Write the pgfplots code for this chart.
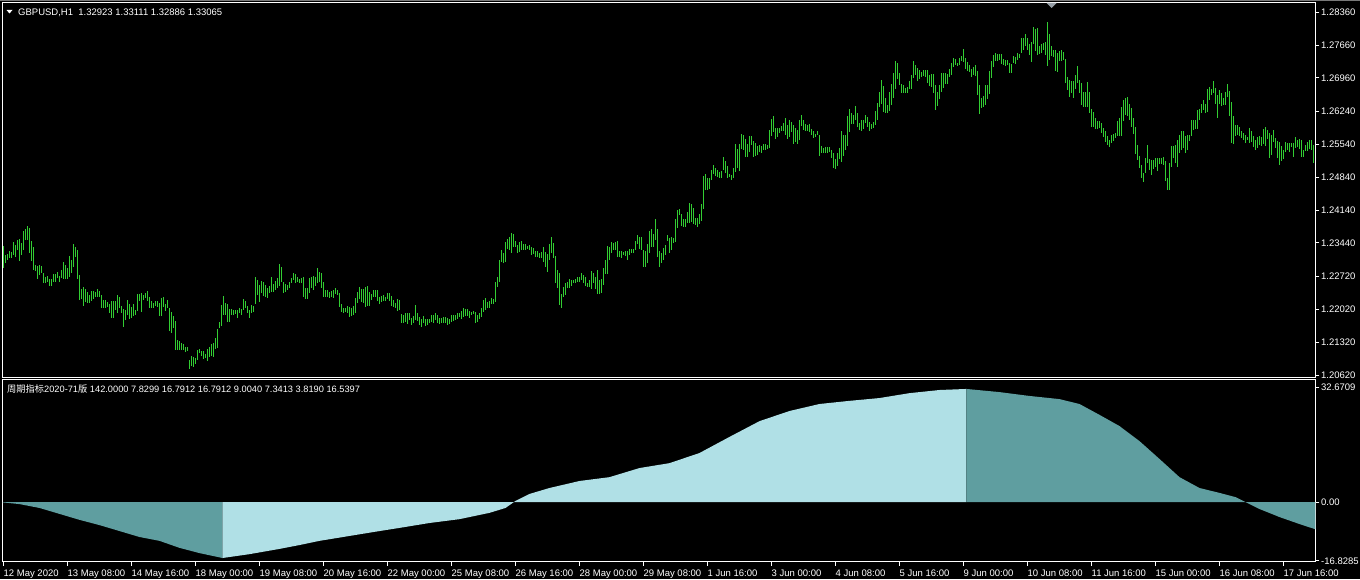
\documentclass[border=0pt]{standalone}
\usepackage{pgfplots}
\pgfplotsset{compat=1.18}
\usepackage{pgfplotstable}
\usepackage{fontspec}
\setmainfont{Liberation Sans}
\newfontfamily\cjk{Noto Sans CJK SC}
\definecolor{barg}{RGB}{50,205,50}
\definecolor{cadet}{RGB}{95,158,160}
\definecolor{powder}{RGB}{176,224,230}
\definecolor{topgray}{RGB}{120,120,120}
\definecolor{shiftgray}{RGB}{150,158,166}

\pgfplotstableread{
lo hi
1.2290 1.2337
1.2302 1.2318
1.2307 1.2320
1.2311 1.2327
1.2311 1.2325
1.2318 1.2347
1.2315 1.2339
1.2329 1.2350
1.2306 1.2352
1.2318 1.2343
1.2330 1.2370
1.2350 1.2373
1.2350 1.2380
1.2323 1.2375
1.2306 1.2348
1.2286 1.2336
1.2285 1.2297
1.2267 1.2295
1.2276 1.2297
1.2279 1.2295
1.2258 1.2281
1.2258 1.2272
1.2261 1.2273
1.2252 1.2268
1.2252 1.2268
1.2261 1.2277
1.2261 1.2278
1.2269 1.2282
1.2260 1.2273
1.2269 1.2286
1.2267 1.2304
1.2267 1.2297
1.2267 1.2290
1.2272 1.2316
1.2279 1.2308
1.2293 1.2342
1.2315 1.2336
1.2267 1.2329
1.2222 1.2276
1.2224 1.2245
1.2210 1.2251
1.2219 1.2246
1.2217 1.2240
1.2215 1.2233
1.2221 1.2242
1.2224 1.2241
1.2228 1.2240
1.2228 1.2246
1.2229 1.2242
1.2206 1.2233
1.2206 1.2222
1.2206 1.2222
1.2207 1.2218
1.2194 1.2214
1.2183 1.2221
1.2183 1.2221
1.2201 1.2220
1.2194 1.2233
1.2205 1.2228
1.2195 1.2210
1.2165 1.2204
1.2180 1.2202
1.2190 1.2222
1.2181 1.2214
1.2185 1.2207
1.2188 1.2215
1.2190 1.2201
1.2200 1.2235
1.2220 1.2235
1.2197 1.2237
1.2222 1.2234
1.2226 1.2238
1.2221 1.2242
1.2205 1.2228
1.2205 1.2221
1.2206 1.2217
1.2210 1.2221
1.2208 1.2221
1.2188 1.2217
1.2188 1.2226
1.2208 1.2229
1.2200 1.2214
1.2205 1.2222
1.2157 1.2205
1.2153 1.2196
1.2162 1.2188
1.2116 1.2178
1.2116 1.2138
1.2116 1.2136
1.2116 1.2130
1.2116 1.2129
1.2112 1.2123
1.2114 1.2123
1.2076 1.2094
1.2082 1.2102
1.2080 1.2100
1.2087 1.2099
1.2094 1.2116
1.2109 1.2117
1.2104 1.2114
1.2097 1.2114
1.2098 1.2107
1.2093 1.2118
1.2102 1.2123
1.2102 1.2129
1.2102 1.2131
1.2119 1.2142
1.2121 1.2160
1.2162 1.2175
1.2167 1.2212
1.2190 1.2231
1.2190 1.2215
1.2176 1.2215
1.2176 1.2203
1.2190 1.2203
1.2190 1.2201
1.2192 1.2201
1.2185 1.2201
1.2194 1.2205
1.2190 1.2203
1.2201 1.2224
1.2206 1.2221
1.2195 1.2210
1.2185 1.2201
1.2194 1.2212
1.2196 1.2210
1.2215 1.2271
1.2233 1.2265
1.2219 1.2254
1.2237 1.2263
1.2232 1.2261
1.2229 1.2254
1.2226 1.2247
1.2237 1.2252
1.2240 1.2271
1.2240 1.2256
1.2244 1.2263
1.2249 1.2270
1.2252 1.2299
1.2261 1.2292
1.2237 1.2261
1.2240 1.2256
1.2244 1.2254
1.2249 1.2261
1.2258 1.2270
1.2265 1.2279
1.2258 1.2277
1.2261 1.2272
1.2258 1.2268
1.2259 1.2269
1.2229 1.2271
1.2224 1.2247
1.2224 1.2249
1.2238 1.2270
1.2249 1.2272
1.2244 1.2274
1.2252 1.2272
1.2258 1.2291
1.2261 1.2283
1.2249 1.2280
1.2229 1.2261
1.2228 1.2244
1.2228 1.2244
1.2227 1.2240
1.2228 1.2241
1.2226 1.2244
1.2235 1.2248
1.2233 1.2244
1.2208 1.2238
1.2197 1.2214
1.2194 1.2205
1.2197 1.2206
1.2195 1.2209
1.2187 1.2208
1.2188 1.2205
1.2190 1.2209
1.2195 1.2226
1.2215 1.2240
1.2224 1.2251
1.2219 1.2246
1.2217 1.2246
1.2208 1.2251
1.2209 1.2252
1.2209 1.2240
1.2222 1.2235
1.2228 1.2244
1.2229 1.2244
1.2220 1.2244
1.2215 1.2228
1.2219 1.2231
1.2221 1.2233
1.2220 1.2229
1.2224 1.2237
1.2221 1.2237
1.2209 1.2231
1.2208 1.2222
1.2205 1.2217
1.2200 1.2224
1.2200 1.2222
1.2173 1.2192
1.2174 1.2190
1.2176 1.2195
1.2171 1.2194
1.2180 1.2195
1.2169 1.2185
1.2173 1.2188
1.2180 1.2212
1.2178 1.2195
1.2169 1.2187
1.2165 1.2183
1.2173 1.2188
1.2167 1.2181
1.2170 1.2182
1.2173 1.2182
1.2176 1.2190
1.2174 1.2190
1.2180 1.2195
1.2173 1.2190
1.2171 1.2185
1.2173 1.2185
1.2174 1.2187
1.2173 1.2186
1.2169 1.2184
1.2171 1.2182
1.2176 1.2191
1.2178 1.2191
1.2180 1.2191
1.2183 1.2195
1.2187 1.2195
1.2181 1.2200
1.2187 1.2205
1.2188 1.2204
1.2189 1.2204
1.2185 1.2198
1.2190 1.2197
1.2192 1.2199
1.2173 1.2197
1.2176 1.2190
1.2183 1.2195
1.2187 1.2205
1.2197 1.2222
1.2201 1.2227
1.2205 1.2219
1.2205 1.2221
1.2214 1.2226
1.2215 1.2224
1.2219 1.2261
1.2251 1.2272
1.2261 1.2308
1.2304 1.2329
1.2302 1.2322
1.2304 1.2347
1.2332 1.2352
1.2329 1.2357
1.2322 1.2366
1.2336 1.2364
1.2336 1.2349
1.2323 1.2340
1.2325 1.2346
1.2329 1.2348
1.2329 1.2342
1.2330 1.2342
1.2332 1.2338
1.2330 1.2340
1.2318 1.2335
1.2320 1.2333
1.2315 1.2327
1.2313 1.2327
1.2311 1.2322
1.2311 1.2325
1.2304 1.2335
1.2293 1.2325
1.2283 1.2320
1.2308 1.2342
1.2322 1.2357
1.2311 1.2345
1.2259 1.2316
1.2247 1.2286
1.2212 1.2279
1.2206 1.2235
1.2229 1.2251
1.2233 1.2259
1.2247 1.2261
1.2249 1.2267
1.2252 1.2265
1.2258 1.2265
1.2259 1.2268
1.2261 1.2272
1.2261 1.2272
1.2265 1.2281
1.2258 1.2276
1.2252 1.2271
1.2251 1.2259
1.2251 1.2265
1.2246 1.2284
1.2258 1.2280
1.2246 1.2272
1.2236 1.2286
1.2236 1.2265
1.2238 1.2268
1.2254 1.2290
1.2278 1.2308
1.2278 1.2337
1.2308 1.2335
1.2322 1.2346
1.2329 1.2345
1.2330 1.2345
1.2313 1.2348
1.2313 1.2327
1.2311 1.2327
1.2318 1.2325
1.2317 1.2326
1.2308 1.2327
1.2318 1.2331
1.2322 1.2332
1.2323 1.2332
1.2330 1.2349
1.2342 1.2361
1.2332 1.2357
1.2330 1.2357
1.2293 1.2329
1.2293 1.2327
1.2302 1.2342
1.2322 1.2369
1.2336 1.2373
1.2335 1.2364
1.2350 1.2396
1.2315 1.2373
1.2293 1.2327
1.2301 1.2322
1.2308 1.2333
1.2318 1.2340
1.2349 1.2361
1.2323 1.2354
1.2329 1.2357
1.2345 1.2354
1.2345 1.2395
1.2375 1.2414
1.2404 1.2416
1.2380 1.2406
1.2379 1.2396
1.2379 1.2395
1.2386 1.2410
1.2386 1.2429
1.2389 1.2427
1.2384 1.2419
1.2382 1.2397
1.2377 1.2397
1.2384 1.2406
1.2391 1.2427
1.2416 1.2487
1.2457 1.2491
1.2457 1.2483
1.2460 1.2482
1.2478 1.2499
1.2492 1.2510
1.2486 1.2503
1.2485 1.2499
1.2483 1.2496
1.2483 1.2497
1.2499 1.2528
1.2493 1.2518
1.2482 1.2508
1.2485 1.2492
1.2478 1.2489
1.2482 1.2503
1.2496 1.2556
1.2503 1.2544
1.2497 1.2555
1.2545 1.2577
1.2543 1.2574
1.2528 1.2565
1.2528 1.2556
1.2538 1.2572
1.2552 1.2572
1.2528 1.2561
1.2529 1.2558
1.2531 1.2550
1.2538 1.2553
1.2535 1.2551
1.2543 1.2555
1.2543 1.2555
1.2545 1.2552
1.2547 1.2585
1.2572 1.2608
1.2581 1.2614
1.2565 1.2590
1.2570 1.2590
1.2579 1.2590
1.2582 1.2594
1.2582 1.2599
1.2574 1.2610
1.2565 1.2596
1.2570 1.2606
1.2581 1.2601
1.2555 1.2595
1.2560 1.2589
1.2555 1.2585
1.2563 1.2606
1.2593 1.2616
1.2585 1.2606
1.2583 1.2597
1.2582 1.2595
1.2581 1.2597
1.2574 1.2587
1.2568 1.2582
1.2570 1.2577
1.2574 1.2582
1.2529 1.2575
1.2536 1.2550
1.2536 1.2546
1.2536 1.2548
1.2536 1.2548
1.2538 1.2549
1.2525 1.2543
1.2504 1.2535
1.2501 1.2524
1.2508 1.2535
1.2524 1.2546
1.2517 1.2582
1.2529 1.2574
1.2543 1.2574
1.2550 1.2614
1.2580 1.2629
1.2597 1.2621
1.2597 1.2616
1.2606 1.2636
1.2592 1.2621
1.2585 1.2599
1.2582 1.2606
1.2588 1.2606
1.2599 1.2616
1.2592 1.2612
1.2582 1.2602
1.2586 1.2597
1.2590 1.2601
1.2595 1.2625
1.2606 1.2642
1.2633 1.2665
1.2641 1.2691
1.2624 1.2678
1.2620 1.2652
1.2621 1.2638
1.2626 1.2665
1.2638 1.2682
1.2653 1.2706
1.2672 1.2731
1.2694 1.2727
1.2680 1.2707
1.2663 1.2682
1.2664 1.2680
1.2664 1.2674
1.2664 1.2676
1.2672 1.2689
1.2672 1.2702
1.2696 1.2732
1.2702 1.2723
1.2689 1.2716
1.2694 1.2712
1.2698 1.2709
1.2700 1.2712
1.2698 1.2712
1.2685 1.2712
1.2678 1.2702
1.2677 1.2704
1.2664 1.2704
1.2627 1.2680
1.2636 1.2665
1.2651 1.2680
1.2666 1.2706
1.2675 1.2706
1.2684 1.2706
1.2683 1.2704
1.2698 1.2714
1.2702 1.2727
1.2719 1.2738
1.2723 1.2736
1.2722 1.2727
1.2723 1.2738
1.2732 1.2742
1.2730 1.2757
1.2714 1.2738
1.2711 1.2729
1.2709 1.2723
1.2698 1.2714
1.2702 1.2719
1.2700 1.2723
1.2659 1.2710
1.2619 1.2680
1.2632 1.2654
1.2634 1.2657
1.2638 1.2680
1.2650 1.2680
1.2661 1.2710
1.2695 1.2731
1.2720 1.2745
1.2731 1.2749
1.2731 1.2746
1.2734 1.2746
1.2726 1.2746
1.2724 1.2736
1.2722 1.2734
1.2724 1.2734
1.2707 1.2727
1.2707 1.2725
1.2727 1.2743
1.2725 1.2741
1.2734 1.2750
1.2738 1.2746
1.2749 1.2781
1.2756 1.2781
1.2764 1.2790
1.2756 1.2781
1.2745 1.2768
1.2729 1.2772
1.2768 1.2805
1.2754 1.2800
1.2745 1.2802
1.2746 1.2764
1.2749 1.2768
1.2756 1.2770
1.2744 1.2773
1.2722 1.2815
1.2734 1.2789
1.2743 1.2764
1.2741 1.2756
1.2711 1.2756
1.2709 1.2749
1.2731 1.2754
1.2731 1.2756
1.2733 1.2752
1.2685 1.2737
1.2670 1.2697
1.2656 1.2692
1.2663 1.2690
1.2653 1.2690
1.2672 1.2702
1.2685 1.2722
1.2663 1.2692
1.2638 1.2686
1.2635 1.2667
1.2635 1.2667
1.2633 1.2688
1.2621 1.2665
1.2592 1.2629
1.2592 1.2623
1.2587 1.2610
1.2587 1.2604
1.2590 1.2604
1.2578 1.2599
1.2571 1.2590
1.2560 1.2582
1.2553 1.2571
1.2548 1.2564
1.2557 1.2574
1.2562 1.2577
1.2567 1.2579
1.2573 1.2604
1.2573 1.2610
1.2573 1.2635
1.2604 1.2648
1.2617 1.2653
1.2614 1.2655
1.2606 1.2640
1.2592 1.2631
1.2576 1.2610
1.2534 1.2592
1.2521 1.2553
1.2503 1.2530
1.2482 1.2510
1.2475 1.2494
1.2493 1.2526
1.2514 1.2553
1.2500 1.2523
1.2488 1.2520
1.2501 1.2520
1.2507 1.2525
1.2498 1.2525
1.2513 1.2525
1.2513 1.2525
1.2510 1.2528
1.2477 1.2519
1.2456 1.2482
1.2457 1.2514
1.2507 1.2551
1.2525 1.2551
1.2514 1.2553
1.2507 1.2564
1.2535 1.2575
1.2543 1.2582
1.2546 1.2582
1.2535 1.2571
1.2543 1.2575
1.2562 1.2575
1.2571 1.2606
1.2585 1.2606
1.2587 1.2606
1.2587 1.2628
1.2606 1.2630
1.2621 1.2641
1.2628 1.2649
1.2622 1.2641
1.2624 1.2672
1.2648 1.2676
1.2660 1.2672
1.2663 1.2690
1.2640 1.2674
1.2610 1.2660
1.2641 1.2670
1.2637 1.2663
1.2638 1.2653
1.2638 1.2667
1.2655 1.2683
1.2615 1.2667
1.2558 1.2645
1.2555 1.2615
1.2571 1.2596
1.2575 1.2596
1.2572 1.2592
1.2567 1.2582
1.2564 1.2578
1.2557 1.2575
1.2564 1.2571
1.2558 1.2589
1.2560 1.2582
1.2548 1.2572
1.2543 1.2564
1.2547 1.2571
1.2553 1.2572
1.2550 1.2571
1.2555 1.2587
1.2550 1.2591
1.2565 1.2584
1.2526 1.2578
1.2532 1.2574
1.2560 1.2585
1.2546 1.2567
1.2525 1.2562
1.2510 1.2560
1.2518 1.2550
1.2523 1.2543
1.2539 1.2560
1.2543 1.2558
1.2539 1.2557
1.2548 1.2558
1.2528 1.2557
1.2547 1.2569
1.2548 1.2564
1.2544 1.2565
1.2527 1.2564
1.2528 1.2543
1.2539 1.2553
1.2541 1.2560
1.2544 1.2564
1.2543 1.2564
1.2514 1.2553
}\pricedata

\begin{document}
\begin{tikzpicture}[x=1pt,y=1pt,font=\fontsize{9.5}{11}\selectfont]
\path[use as bounding box] (0pt,0pt) rectangle (1360pt,579pt);
\fill[black] (0pt,0pt) rectangle (1360pt,579pt);
\fill[topgray] (0pt,577.5pt) rectangle (1360pt,579pt);

% price panel
\begin{axis}[
  at={(2.5pt,202pt)}, anchor=south west,
  width=1313pt, height=374pt, scale only axis,
  xmin=-0.5, xmax=656, ymin=1.20582, ymax=1.28556,
  axis line style={draw=white, line width=1pt},
  xtick=\empty,
  ytick={1.2836,1.2766,1.2696,1.2624,1.2554,1.2484,1.2414,1.2344,1.2272,1.2202,1.2132,1.2062},
  yticklabels={1.28360,1.27660,1.26960,1.26240,1.25540,1.24840,1.24140,1.23440,1.22720,1.22020,1.21320,1.20620},
  ytick pos=right, tick align=outside, major tick length=4pt,
  tick style={draw=white, line width=1pt},
  yticklabel style={text=white, font=\fontsize{9.5}{11}\selectfont, inner xsep=1.5pt},
]
\addplot[draw=none, mark=none, error bars/.cd, y dir=both, y explicit, error mark=none,
  error bar style={draw=barg, line width=1pt}]
  table[x expr=\coordindex, y expr={(\thisrow{lo}+\thisrow{hi})/2}, y error expr={(\thisrow{hi}-\thisrow{lo})/2}] {\pricedata};
\end{axis}

% indicator panel
\begin{axis}[
  at={(2.5pt,17.5pt)}, anchor=south west,
  width=1313pt, height=181.5pt, scale only axis,
  xmin=-0.5, xmax=656, ymin=-17.0, ymax=34.86,
  axis line style={draw=white, line width=1pt},
  xtick={0,32,...,640},
  xticklabels={12 May 2020,13 May 08:00,14 May 16:00,18 May 00:00,19 May 08:00,20 May 16:00,22 May 00:00,25 May 08:00,26 May 16:00,28 May 00:00,29 May 08:00,1 Jun 16:00,3 Jun 00:00,4 Jun 08:00,5 Jun 16:00,9 Jun 00:00,10 Jun 08:00,11 Jun 16:00,15 Jun 00:00,16 Jun 08:00,17 Jun 16:00},
  xtick pos=bottom,
  ytick={32.6709,0,-16.8285}, yticklabels={32.6709,0.00,-16.8285},
  ytick pos=right, tick align=outside, major tick length=4pt,
  tick style={draw=white, line width=1pt},
  yticklabel style={text=white, font=\fontsize{9.5}{11}\selectfont, inner xsep=1.5pt},
  xticklabel style={text=white, font=\fontsize{9.5}{11}\selectfont, anchor=north west, inner xsep=0pt, inner ysep=4pt},
]
\addplot[fill=cadet, draw=none] coordinates {(-0.5,0) (-0.5,-0.1) (8,-0.6) (18,-1.7) (28,-3.4) (38,-5.1) (48,-6.6) (58,-8.3) (68,-10.0) (78,-11.1) (88,-13.1) (98,-14.6) (109.5,-16.0) (109.5,0)};
\addplot[fill=powder, draw=none] coordinates {(109.5,0) (109.5,-16.0) (123,-14.9) (138,-13.4) (148,-12.3) (158,-11.1) (173,-9.7) (188,-8.3) (198,-7.4) (213,-6.0) (228,-4.9) (243,-3.1) (251,-1.7) (256,0.3) (263,2.3) (273,4.0) (288,6.0) (303,7.1) (318,9.7) (333,11.1) (348,14.0) (363,18.6) (378,23.1) (393,26.0) (408,28.0) (423,28.9) (438,29.7) (453,31.1) (468,32.0) (481.5,32.3) (481.5,0)};
\addplot[fill=cadet, draw=none] coordinates {(481.5,0) (481.5,32.3) (498,31.4) (513,30.3) (528,29.4) (538,28.0) (548,24.9) (558,21.7) (568,17.4) (578,12.3) (588,7.1) (598,4.0) (608,2.6) (616,1.4) (621,0) (628,-2.0) (638,-4.3) (648,-6.3) (656,-7.8) (656,0)};
\end{axis}

% labels
\fill[white] (6.5pt,569pt) -- (12.5pt,569pt) -- (9.5pt,565.5pt) -- cycle;
\node[anchor=base west, inner sep=0pt, text=white] at (18pt,563pt) {GBPUSD,H1\ \ 1.32923 1.33111 1.32886 1.33065};
\node[anchor=base west, inner sep=0pt, text=white, font=\fontsize{9.25}{11}\selectfont] at (7pt,186.5pt) {{\cjk 周期指标}2020-71{\cjk 版} 142.0000 7.8299 16.7912 16.7912 9.0040 7.3413 3.8190 16.5397};
\fill[shiftgray] (1046.5pt,576pt) -- (1056.5pt,576pt) -- (1051.5pt,571pt) -- cycle;
\end{tikzpicture}
\end{document}
